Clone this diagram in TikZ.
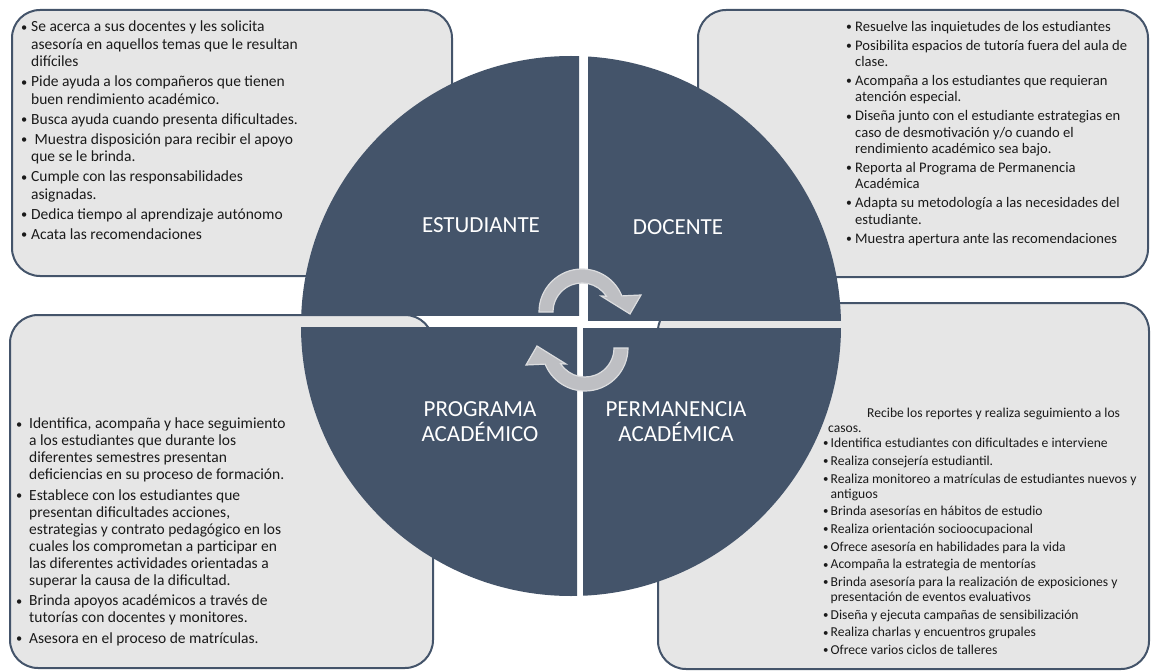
\documentclass[tikz,border=0pt]{standalone}
\usepackage{fontspec}
\setmainfont{Carlito}
\usepackage{tikz}

\definecolor{slate}{HTML}{44546A}
\definecolor{boxgray}{HTML}{E6E6E6}
\definecolor{arrowgray}{HTML}{BEBFC3}
\definecolor{arrowedge}{HTML}{DCDDDF}
\definecolor{textdark}{HTML}{1A1A1A}

\newlength{\bulw}
\newcommand{\bul}{\makebox[\bulw][l]{\raisebox{0.06em}{\scalebox{0.8}{\textbullet}}}}
\newcommand{\ctn}{\makebox[\bulw]{}}
\newcommand{\cycarrow}{%
  \filldraw[cyc] (180:29) -- (180:43) arc[start angle=180,end angle=22,radius=43]
    -- (59,17) -- (48,-2) -- (19,16) -- (33:29) arc[start angle=33,end angle=180,radius=29] -- cycle;}

\begin{document}
\begin{tikzpicture}[x=1pt,y=-1pt,
      box/.style={draw=slate,line width=2pt,fill=boxgray,rounded corners=28pt},
      quad/.style={fill=slate},
      lbl/.style={text=white,font=\fontsize{23}{25}\selectfont,align=center},
      txt/.style={anchor=north west,inner sep=0pt,align=left,text=textdark},
      cyc/.style={fill=arrowgray,draw=arrowedge,line width=1.2pt}
]
      \useasboundingbox (0,0) rectangle (1151,671);

      % cajas
      \draw[box] (12,10) rectangle (452,276);
      \draw[box] (698,10) rectangle (1148,277);
      \draw[box] (10,315) rectangle (433,668);
      \draw[box] (658,303) rectangle (1149,669);

      % circulo en cuatro partes
      \begin{scope}
          \clip (0,0) rectangle (579,315);
          \fill[quad] (571,326) circle[radius=270];
      \end{scope}
      \begin{scope}
          \clip (588,0) rectangle (1151,320);
          \fill[quad] (571,326) circle[radius=270];
      \end{scope}
      \begin{scope}
          \clip (0,327) rectangle (577,671);
          \fill[quad] (571,326) circle[radius=270];
      \end{scope}
      \begin{scope}
          \clip (583,328) rectangle (1151,671);
          \fill[quad] (571,326) circle[radius=270];
      \end{scope}

      % flechas del ciclo
      \begin{scope}[shift={(582,312)},yscale=-1]
          \cycarrow
      \end{scope}
      \begin{scope}[shift={(585,348)},yscale=-1,rotate=180]
          \cycarrow
      \end{scope}

      \node[lbl] (est) at (481,225) {ESTUDIANTE};
      \node[lbl] (doc) at (678,227) {DOCENTE};
      \node[lbl] (prog) at (480,422) {PROGRAMA\\ACADÉMICO};
      \node[lbl] (perm) at (676,422) {PERMANENCIA\\ACADÉMICA};

      \setlength{\bulw}{10pt}
      \node[txt,font=\fontsize{15.5}{17.5}\selectfont] (estbox) at (21,21) {%
          \bul Se acerca a sus docentes y les solicita\\
          \ctn asesoría en aquellos temas que le resultan\\
          \ctn difíciles\\[2.5pt]
          \bul Pide ayuda a los compañeros que tienen\\
          \ctn buen rendimiento académico.\\[2.5pt]
          \bul Busca ayuda cuando presenta dificultades.\\[2.5pt]
          \bul\ Muestra disposición para recibir el apoyo\\
          \ctn que se le brinda.\\[2.5pt]
          \bul Cumple con las responsabilidades\\
          \ctn asignadas.\\[2.5pt]
          \bul Dedica tiempo al aprendizaje autónomo\\[2.5pt]
          \bul Acata las recomendaciones};

      \setlength{\bulw}{9pt}
      \node[txt,font=\fontsize{14.6}{16.3}\selectfont] (docbox) at (846,21) {%
          \bul Resuelve las inquietudes de los estudiantes\\[2.7pt]
          \bul Posibilita espacios de tutoría fuera del aula de\\
          \ctn clase.\\[2.7pt]
          \bul Acompaña a los estudiantes que requieran\\
          \ctn atención especial.\\[2.7pt]
          \bul Diseña junto con el estudiante estrategias en\\
          \ctn caso de desmotivación y/o cuando el\\
          \ctn rendimiento académico sea bajo.\\[2.7pt]
          \bul Reporta al Programa de Permanencia\\
          \ctn Académica\\[2.7pt]
          \bul Adapta su metodología a las necesidades del\\
          \ctn estudiante.\\[2.7pt]
          \bul Muestra apertura ante las recomendaciones};

      \setlength{\bulw}{13pt}
      \node[txt,font=\fontsize{15.5}{17}\selectfont] (progbox) at (16,418) {%
          \bul Identifica, acompaña y hace seguimiento\\
          \ctn a los estudiantes que durante los\\
          \ctn diferentes semestres presentan\\
          \ctn deficiencias en su proceso de formación.\\[3.5pt]
          \bul Establece con los estudiantes que\\
          \ctn presentan dificultades acciones,\\
          \ctn estrategias y contrato pedagógico en los\\
          \ctn cuales los comprometan a participar en\\
          \ctn las diferentes actividades orientadas a\\
          \ctn superar la causa de la dificultad.\\[3.5pt]
          \bul Brinda apoyos académicos a través de\\
          \ctn tutorías con docentes y monitores.\\[3.5pt]
          \bul Asesora en el proceso de matrículas.};

      \setlength{\bulw}{7.5pt}
      \node[txt,font=\fontsize{13.6}{15}\selectfont] (permbox) at (823,408) {%
          \hspace*{44pt}Recibe los reportes y realiza seguimiento a los\\
          \hspace*{5pt}casos.\\
          \bul Identifica estudiantes con dificultades e interviene\\[2.7pt]
          \bul Realiza consejería estudiantil.\\[2.7pt]
          \bul Realiza monitoreo a matrículas de estudiantes nuevos y\\
          \ctn antiguos\\[2.7pt]
          \bul Brinda asesorías en hábitos de estudio\\[2.7pt]
          \bul Realiza orientación socioocupacional\\[2.7pt]
          \bul Ofrece asesoría en habilidades para la vida\\[2.7pt]
          \bul Acompaña la estrategia de mentorías\\[2.7pt]
          \bul Brinda asesoría para la realización de exposiciones y\\
          \ctn presentación de eventos evaluativos\\[2.7pt]
          \bul Diseña y ejecuta campañas de sensibilización\\[2.7pt]
          \bul Realiza charlas y encuentros grupales\\[2.7pt]
          \bul Ofrece varios ciclos de talleres};
\end{tikzpicture}
\end{document}
